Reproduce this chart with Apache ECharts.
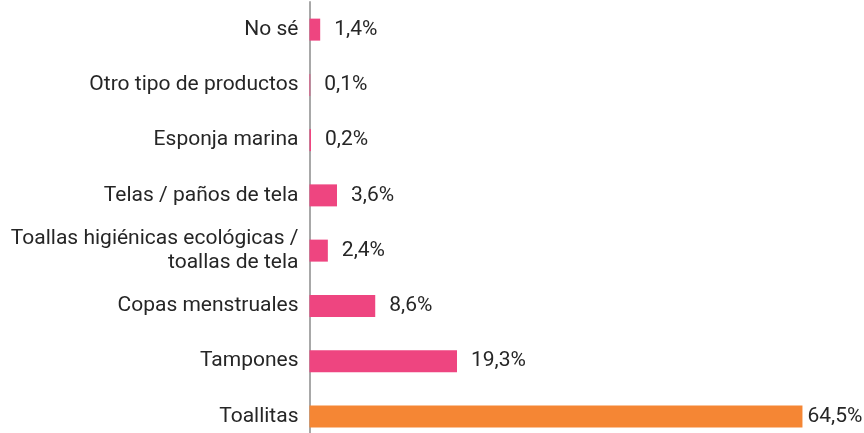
<!DOCTYPE html>
<html>
<head>
<meta charset="utf-8">
<script src="https://cdn.jsdelivr.net/npm/echarts@6/dist/echarts.min.js"></script>
<style>
  html, body { margin: 0; padding: 0; background: #fff; }
  #chart { width: 864px; height: 433px; }
</style>
</head>
<body>
<div id="chart"></div>
<script>
// categories bottom -> top
var categories = ['Toallitas', 'Tampones', 'Copas menstruales',
  'Toallas higiénicas ecológicas /\ntoallas de tela', 'Telas / paños de tela',
  'Esponja marina', 'Otro tipo de productos', 'No sé'];
var values = [64.5, 19.3, 8.6, 2.4, 3.6, 0.2, 0.1, 1.4];
var highlightIndex = 0;   // Toallitas in orange

var pink = '#ee4580';
var orange = '#f58634';

var chart = echarts.init(document.getElementById('chart'), null, {renderer: 'canvas'});

var data = values.map(function (v, i) {
  return {
    value: v,
    itemStyle: {color: i === highlightIndex ? orange : pink},
    label: {distance: i === highlightIndex ? 5 : 14}
  };
});

chart.setOption({
  animation: false,
  grid: {left: 309.5, top: 2, width: 535, height: 442, containLabel: false, outerBoundsMode: 'none'},
  xAxis: {
    type: 'value', min: 0, max: 70,
    show: false
  },
  yAxis: {
    type: 'category',
    data: categories,
    axisLine: {show: true, lineStyle: {color: '#a8a8a8', width: 2}},
    axisTick: {show: false},
    axisLabel: {
      margin: 11,
      fontFamily: 'Roboto',
      fontSize: 21,
      color: '#262626',
      lineHeight: 24,
      align: 'right'
    }
  },
  series: [{
    type: 'bar',
    data: data,
    barWidth: 22,
    label: {
      show: true,
      position: 'right',
      fontFamily: 'Roboto',
      fontSize: 21,
      color: '#262626',
      formatter: function (p) { return String(p.value).replace('.', ',') + '%'; }
    }
  }]
});
</script>
</body>
</html>
